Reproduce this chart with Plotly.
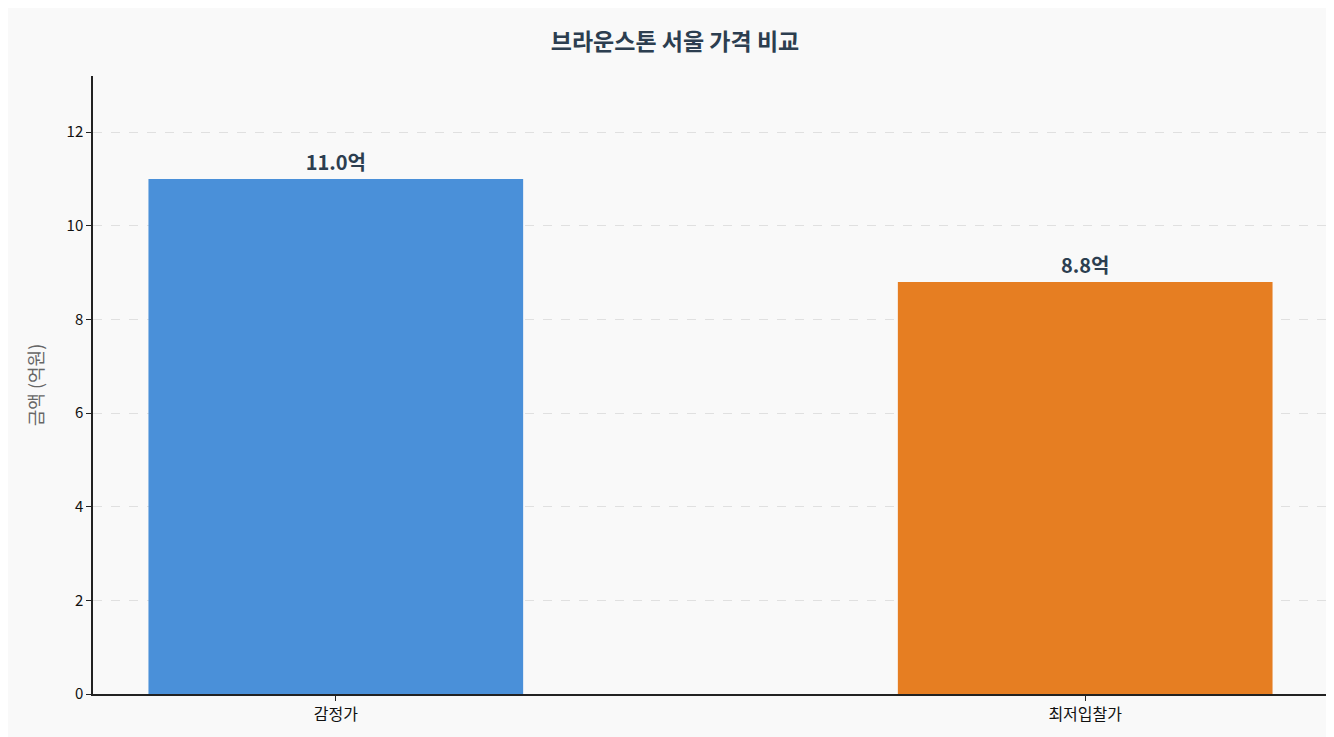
import plotly.graph_objects as go

categories = ["감정가", "최저입찰가"]
values = [11.0, 8.8]
labels = ["11.0억", "8.8억"]
colors = ["#4a90d9", "#e67e22"]

fig = go.Figure(go.Bar(
    x=[0, 1], y=values, width=0.5, marker_color=colors, marker_line_width=0,
    text=labels, textposition="outside",
    textfont=dict(size=20, color="#2c3e50", family="Noto Sans CJK KR", weight="bold"),
    cliponaxis=False,
))
fig.update_layout(
    width=1334, height=737,
    paper_bgcolor="#f9f9f9", plot_bgcolor="#f9f9f9",
    margin=dict(l=85, r=14, t=68, b=51),
    font=dict(family="Noto Sans CJK KR", size=15, color="#111"),
    title=dict(text="<b>브라운스톤 서울 가격 비교</b>", x=0.5, xanchor="center", y=0.965,
               font=dict(size=23, color="#2c3e50")),
    showlegend=False,
)
fig.update_xaxes(range=[-0.324, 1.324], tickvals=[0, 1], ticktext=categories,
                 showline=True, linecolor="#222", linewidth=1.5, ticks="outside",
                 ticklen=5, tickcolor="#222", showgrid=False, zeroline=False,
                 tickfont=dict(size=16))
fig.update_yaxes(range=[0, 13.2], dtick=2, showline=True, linecolor="#222", linewidth=1.5,
                 ticks="outside", ticklen=5, tickcolor="#222",
                 showgrid=True, gridcolor="#e0e0e0", griddash="dash", zeroline=False,
                 title=dict(text="금액 (억원)", font=dict(size=18, color="#666"), standoff=18),
                 tickfont=dict(size=15))
fig.write_html("out.html")
